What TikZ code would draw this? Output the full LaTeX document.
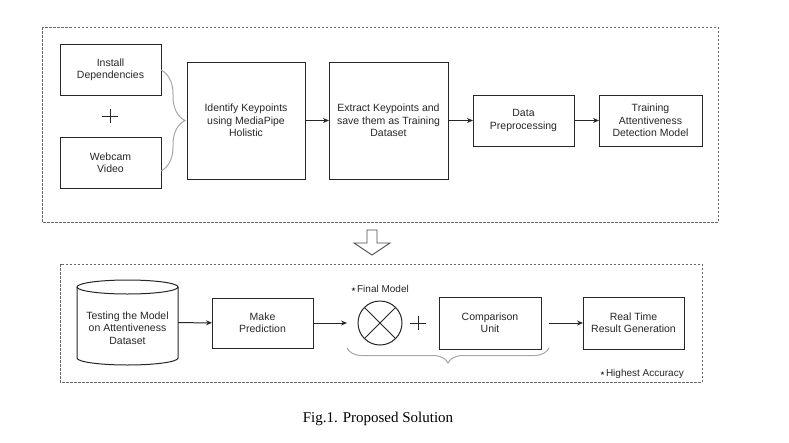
\documentclass[tikz,border=0pt]{standalone}
\usepackage{fontspec}
\setmainfont{Liberation Sans}
\newfontfamily\capfont{Liberation Serif}
\newfontfamily\symfont{DejaVu Sans}
\usetikzlibrary{calc,arrows.meta,decorations.pathreplacing}
\newcommand{\starmark}{{\symfont\fontsize{5.5}{6}\selectfont\raisebox{0.6pt}{★}}\hspace{1pt}}

\begin{document}
\begin{tikzpicture}[x=1pt,y=-1pt,
    font=\fontsize{10.5}{12.4}\selectfont,
    >={Stealth[length=6pt,width=5pt]},
    blk/.style={draw=black!85,line width=1pt,align=center,inner sep=2pt,outer sep=0pt,text=black!85},
    grp/.style={draw=black!60,line width=0.8pt,dash pattern=on 2.5pt off 1.5pt},
    brc/.style={draw=black!35,line width=1pt,decorate,decoration={brace,amplitude=#1}},
    lnk/.style={draw=black!85,line width=1pt,->}]
    \useasboundingbox (0,0) rectangle (789,442);
    % the two stages
    \draw[grp] (42,27) rectangle (718,222);
    \draw[grp] (60,264) rectangle (702,382);
    % stage 1: training
    \node[blk,minimum width=101pt,minimum height=51pt] (inst) at (110.5,69.5) {Install\\Dependencies};
    \node[blk,minimum width=101pt,minimum height=51pt] (cam) at (110.5,162.5) {Webcam\\Video};
    \coordinate (P1) at (110,116);
    \draw[line width=1pt,black!85] ($(P1)+(-8,0)$)--+(16,0) ($(P1)+(0,-7)$)--+(0,14);
    \draw[brc=24pt] (161,70) -- (161,171);
    \node[blk,minimum width=118pt,minimum height=117pt] (ident) at (246,120.5) {Identify Keypoints\\using MediaPipe\\Holistic};
    \node[blk,minimum width=119pt,minimum height=117pt] (extr) at (388.5,120.5) {Extract Keypoints and\\save them as Training\\Dataset};
    \node[blk,minimum width=101pt,minimum height=51pt] (prep) at (523.5,120.5) {Data\\Preprocessing};
    \node[blk,minimum width=103pt,minimum height=51pt] (train) at (650.5,120.5) {Training\\Attentiveness\\Detection Model};
    \draw[lnk] (ident) -- (extr);
    \draw[lnk] (extr) -- (prep);
    \draw[lnk] (prep) -- (train);
    % hollow arrow between the stages
    \draw[black!70,line width=0.9pt] (367,230)--(377,230)--(377,243)--(390,243)--(372,255)--(354,243)--(367,243)--cycle;
    % stage 2: testing
    \node[minimum width=101pt,minimum height=85pt,inner sep=0pt,outer sep=0pt] (cyl) at (127.5,322.5) {};
    \draw[line width=1pt,black!85] ($(cyl.north)+(0,7)$) ellipse [x radius=50.5,y radius=7];
    \draw[line width=1pt,black!85] ($(cyl.north west)+(0,7)$) -- ($(cyl.south west)+(0,-7)$)
        arc[start angle=180,end angle=0,x radius=50.5,y radius=7] -- ($(cyl.north east)+(0,7)$);
    \node[align=center,text=black!85] (cyltxt) at (127.5,328) {Testing the Model\\on Attentiveness\\Dataset};
    \node[blk,minimum width=101pt,minimum height=50pt] (pred) at (262.5,323) {Make\\Prediction};
    \node[draw=black!85,line width=1pt,circle,minimum size=44pt,inner sep=0pt,outer sep=0pt] (xo) at (380,323) {};
    \draw[line width=1pt,black!85] (xo.north west)--(xo.south east) (xo.north east)--(xo.south west);
    \node[anchor=west,inner sep=0pt,text=black!85,font=\fontsize{10}{12}\selectfont] (fmlbl) at (351,289) {\starmark Final Model};
    \coordinate (P2) at (418,323);
    \draw[line width=1pt,black!85] ($(P2)+(-8,0)$)--+(16,0) ($(P2)+(0,-7)$)--+(0,14);
    \node[blk,minimum width=102pt,minimum height=52pt] (comp) at (490,323) {Comparison\\Unit};
    \node[blk,minimum width=101pt,minimum height=52pt] (real) at (633.5,323) {Real Time\\Result Generation};
    \draw[lnk] (cyl) -- (pred);
    \draw[lnk,shorten >=11pt] (pred) -- (xo);
    \draw[lnk,shorten <=8pt] (comp) -- (real);
    \draw[brc=15pt] (549,348) -- (347,348);
    \node[anchor=east,inner sep=0pt,text=black!85,font=\fontsize{10}{12}\selectfont] (hilbl) at (684,374) {\starmark Highest Accuracy};
    % caption
    \node[font=\capfont\fontsize{15}{18}\selectfont] (cap) at (378,419) {Fig.1. Proposed Solution};
\end{tikzpicture}
\end{document}
